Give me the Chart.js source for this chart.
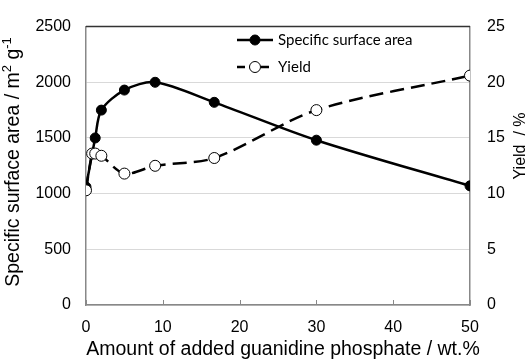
<!DOCTYPE html>
<html lang="en">
<head>
<meta charset="UTF-8">
<title>Surface area and yield</title>
<script src="https://cdn.jsdelivr.net/npm/chart.js@4.4.1/dist/chart.umd.min.js"></script>
<style>
html,body{margin:0;padding:0;background:#fff;}
#wrap{width:527px;height:359px;position:relative;}
</style>
</head>
<body>
<div id="wrap"><canvas id="c"></canvas></div>
<script>
// values
const areaX=[0,1.2,2,5,9,16.7,30,50];
const surfaceArea=[1060,1500,1750,1930,2000,1820,1480,1070];
const yieldX=[0,0.8,1.2,2,5,9,16.7,30,50];
const yieldPct=[10.3,13.6,13.6,13.4,11.8,12.5,13.2,17.5,20.6];
const xTicks=[0,10,20,30,40,50];
const areaTicks=[0,500,1000,1500,2000,2500];
const yieldTicks=[0,5,10,15,20,25];

const FONT='"Liberation Sans", Arial, sans-serif';
const plain=v=>String(v);

const extras={
  id:'extras',
  afterDraw(chart){
    const ctx=chart.ctx, a=chart.chartArea, xs=chart.scales.x;
    ctx.save();
    // top border of plot
    ctx.strokeStyle='#333';ctx.lineWidth=1.5;
    ctx.beginPath();ctx.moveTo(a.left,a.top);ctx.lineTo(a.right,a.top);ctx.stroke();
    // inward x tick marks
    ctx.strokeStyle='#888';ctx.lineWidth=1;
    xTicks.forEach(v=>{const px=Math.round(xs.getPixelForValue(v))+0.5;
      ctx.beginPath();ctx.moveTo(px,a.bottom);ctx.lineTo(px,a.bottom-5);ctx.stroke();});
    // legend
    const ds=chart.data.datasets;
    [[ds[1],40],[ds[0],67]].forEach(([d,y])=>{
      ctx.strokeStyle='#000';ctx.lineWidth=2.5;ctx.setLineDash(d.borderDash?[8,4]:[]);
      ctx.beginPath();ctx.moveTo(237,y);ctx.lineTo(273,y);ctx.stroke();
      ctx.setLineDash([]);
      ctx.beginPath();ctx.arc(255,y,d.pointRadius,0,Math.PI*2);
      ctx.fillStyle=d.pointBackgroundColor;ctx.fill();
      ctx.lineWidth=1;ctx.stroke();
      ctx.fillStyle='#000';ctx.font='15px Lato, "Noto Sans", sans-serif';
      ctx.textAlign='left';ctx.textBaseline='middle';
      ctx.fillText(d.label,278,y);
    });
    // axis titles
    ctx.fillStyle='#000';ctx.textBaseline='alphabetic';
    ctx.font='19.5px '+FONT;ctx.textAlign='center';
    ctx.fillText('Amount of added guanidine phosphate / wt.%',283,355);
    // left title with superscripts
    ctx.save();ctx.translate(19,162);ctx.rotate(-Math.PI/2);
    const parts=[['Specific surface area / m',19.5,0],['2',13,-8],[' g',19.5,0],['-1',13,-8]];
    let w=0;parts.forEach(p=>{ctx.font=p[1]+'px '+FONT;w+=ctx.measureText(p[0]).width;});
    let x=-w/2;ctx.textAlign='left';
    parts.forEach(p=>{ctx.font=p[1]+'px '+FONT;ctx.fillText(p[0],x,p[2]);x+=ctx.measureText(p[0]).width;});
    ctx.restore();
    // right title
    ctx.save();ctx.translate(525,146);ctx.rotate(-Math.PI/2);
    ctx.font='16px '+FONT;ctx.textAlign='center';
    ctx.fillText('Yield  / %',0,0);
    ctx.restore();
    ctx.restore();
  }
};

new Chart(document.getElementById('c'),{
  type:'line',
  data:{datasets:[
    {label:'Yield',data:yieldX.map((x,i)=>({x,y:yieldPct[i]})),yAxisID:'y2',
     borderColor:'#000',borderWidth:2.5,borderDash:[14,7],tension:0.3,
     pointRadius:5.5,pointBackgroundColor:'#fff',pointBorderColor:'#000',pointBorderWidth:1,order:0},
    {label:'Specific surface area',data:areaX.map((x,i)=>({x,y:surfaceArea[i]})),yAxisID:'y',
     borderColor:'#000',borderWidth:2.5,tension:0.3,
     pointRadius:5,pointBackgroundColor:'#000',pointBorderColor:'#000',pointBorderWidth:1,order:1}
  ]},
  options:{
    responsive:true,maintainAspectRatio:false,animation:false,
    layout:{padding:{top:18,left:0,right:0,bottom:0}},
    plugins:{legend:{display:false},tooltip:{enabled:false}},
    scales:{
      x:{type:'linear',min:0,max:50,
        afterBuildTicks:s=>{s.ticks=xTicks.map(v=>({value:v}));},
        afterFit:s=>{s.height=54;},
        grid:{drawOnChartArea:false,drawTicks:false},
        border:{color:'#888',width:1.5},
        ticks:{padding:13,color:'#000',font:{family:FONT,size:16},maxRotation:0,callback:plain}},
      y:{position:'left',min:0,max:2500,
        afterBuildTicks:s=>{s.ticks=areaTicks.map(v=>({value:v}));},
        afterFit:s=>{s.width=86;},
        grid:{color:'#d9d9d9',drawTicks:false},
        border:{color:'#888',width:1.5},
        ticks:{padding:15,color:'#000',font:{family:FONT,size:16},callback:plain}},
      y2:{position:'right',min:0,max:25,
        afterBuildTicks:s=>{s.ticks=yieldTicks.map(v=>({value:v}));},
        afterFit:s=>{s.width=57;},
        grid:{drawOnChartArea:false,drawTicks:false},
        border:{color:'#888',width:1.5},
        ticks:{padding:17,color:'#000',font:{family:FONT,size:16},callback:plain}}
    }
  },
  plugins:[extras]
});
</script>
</body>
</html>
